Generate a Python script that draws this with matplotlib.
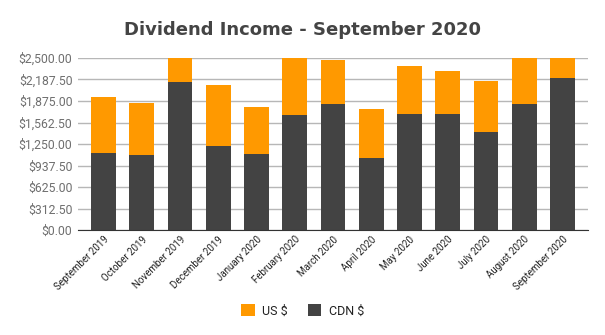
import matplotlib.pyplot as plt
from matplotlib.ticker import FuncFormatter

months = ['September 2019', 'October 2019', 'November 2019', 'December 2019',
          'January 2020', 'February 2020', 'March 2020', 'April 2020',
          'May 2020', 'June 2020', 'July 2020', 'August 2020', 'September 2020']
cdn = [1124, 1094, 2156, 1225, 1109, 1676, 1836, 1051, 1690, 1690, 1429, 1836, 2214]
us = [809, 756, 600, 887, 683, 950, 639, 712, 698, 625, 741, 800, 500]
y_ticks = [0, 312.5, 625, 937.5, 1250, 1562.5, 1875, 2187.5, 2500]

fig = plt.figure(figsize=(6.05, 3.35), dpi=100)
ax = fig.add_axes([0.129, 0.313, 0.843, 0.514])

x = list(range(len(months)))
ax.bar(x, cdn, width=0.65, color='#434343', label='CDN $', zorder=3)
ax.bar(x, us, width=0.65, bottom=cdn, color='#ff9900', label='US $', zorder=3)

ax.set_xlim(-0.667, 12.667)
ax.set_ylim(0, 2500)
ax.set_yticks(y_ticks)
ax.yaxis.set_major_formatter(FuncFormatter(lambda v, p: '${:,.2f}'.format(v)))
ax.grid(axis='y', color='#b7b7b7', linewidth=1, zorder=0)
for s in ['top', 'right', 'left']:
    ax.spines[s].set_visible(False)
ax.spines['bottom'].set_color('#333333')
ax.spines['bottom'].set_zorder(4)
ax.tick_params(axis='y', length=0, labelsize=8.8, labelcolor='#6f6f6f', pad=4)
ax.tick_params(axis='x', length=0, pad=3)
ax.set_xticks(x)
ax.set_xticklabels(months, rotation=45, ha='right', rotation_mode='anchor',
                   fontsize=7, color='#222222')
for lbl in ax.get_yticklabels():
    lbl.set_family('Roboto')
for lbl in ax.get_xticklabels():
    lbl.set_family('Roboto')

fig.text(0.5, 0.91, 'Dividend Income - September 2020', ha='center', va='center',
         fontsize=13, fontweight='bold', color='#444444', family='DejaVu Sans')

h, l = ax.get_legend_handles_labels()
leg = fig.legend(h[::-1], l[::-1], loc='center', bbox_to_anchor=(0.5, 0.072), ncol=2,
                 frameon=False, handlelength=1.1, handleheight=1.1, handletextpad=0.6,
                 columnspacing=1.6, prop={'family': 'Roboto', 'size': 9})
for t in leg.get_texts():
    t.set_color('#222222')

fig.savefig('out.png', dpi=100)
